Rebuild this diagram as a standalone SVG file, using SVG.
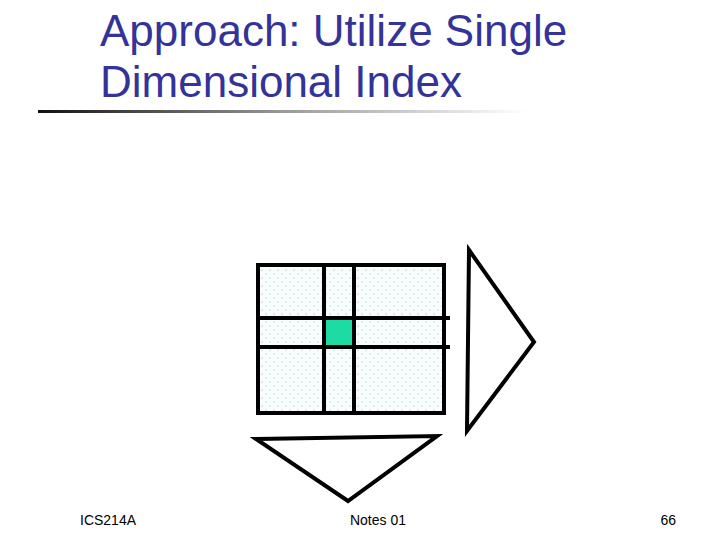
<svg xmlns="http://www.w3.org/2000/svg" width="720" height="540" viewBox="0 0 720 540">
  <style>
    .title { font-family: "Liberation Sans", Arial, sans-serif; font-size: 44px; fill: #333399; }
    .foot { font-family: "Liberation Sans", Arial, sans-serif; font-size: 14px; fill: #000; }
    .stroke { fill: none; stroke: #000; stroke-width: 4; }
    .tri { fill: #fff; stroke: #000; stroke-width: 4; stroke-linejoin: miter; }
  </style>
  <defs>
    <linearGradient id="rule" x1="0" y1="0" x2="1" y2="0">
      <stop offset="0" stop-color="#111"/>
      <stop offset="0.5" stop-color="#999"/>
      <stop offset="1" stop-color="#fff"/>
    </linearGradient>
    <pattern id="dots" width="8" height="8" patternUnits="userSpaceOnUse">
      <rect width="8" height="8" fill="#f7fcfd"/>
      <circle cx="2" cy="2" r="0.55" fill="#9aa5a6"/>
      <circle cx="6" cy="6" r="0.55" fill="#9aa5a6"/>
    </pattern>
  </defs>
  <rect width="720" height="540" fill="#fff"/>

  <g id="title">
    <text class="title" x="100" y="46">Approach: Utilize Single</text>
    <text class="title" x="100" y="97">Dimensional Index</text>
    <rect x="38" y="110" width="490" height="3" fill="url(#rule)"/>
  </g>

  <g id="grid">
    <rect x="258" y="265" width="186" height="148" fill="url(#dots)"/>
    <rect x="325" y="319" width="29" height="28" fill="#1cdca4"/>
    <rect x="258" y="265" width="186" height="148" class="stroke"/>
    <line x1="324" y1="265" x2="324" y2="413" class="stroke"/>
    <line x1="354" y1="265" x2="354" y2="413" class="stroke"/>
    <line x1="258" y1="318" x2="450" y2="318" class="stroke"/>
    <line x1="258" y1="347" x2="450" y2="347" class="stroke"/>
  </g>

  <g id="right-triangle">
    <polygon class="tri" points="469,250 534,342 467,431"/>
  </g>

  <g id="bottom-triangle">
    <polygon class="tri" points="256,439 437,436 348,501"/>
  </g>

  <g id="connectors"></g>

  <g id="footer">
    <text class="foot" x="80" y="525">ICS214A</text>
    <text class="foot" x="378" y="525" text-anchor="middle">Notes 01</text>
    <text class="foot" x="676" y="525" text-anchor="end">66</text>
  </g>
</svg>
